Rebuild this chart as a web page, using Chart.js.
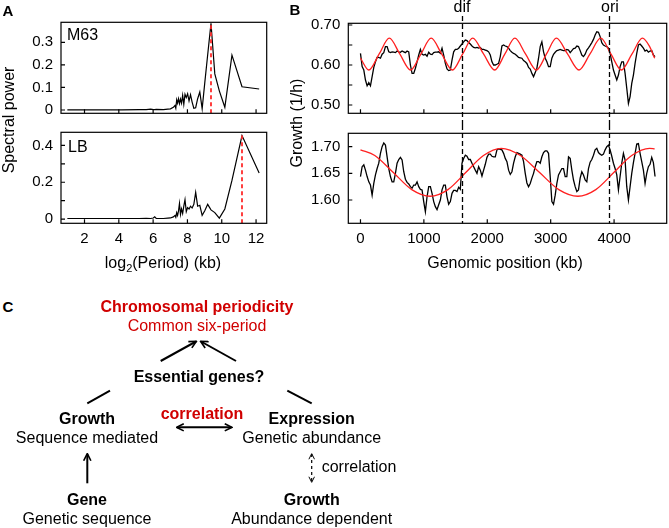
<!DOCTYPE html>
<html>
<head>
<meta charset="utf-8">
<script src="https://cdn.jsdelivr.net/npm/chart.js@4.4.1/dist/chart.umd.min.js"></script>
<style>
  body { margin: 0; background: #fff; font-family: "Liberation Sans", Arial, sans-serif; }
  #fig { position: relative; width: 669px; height: 528px; overflow: hidden; }
  .box { position: absolute; }
  .t { position: absolute; transform: translate(-50%, -50%); white-space: nowrap; font-size: 16px; color: #000; }
  .l { position: absolute; transform: translate(0, -50%); white-space: nowrap; font-size: 16px; color: #000; }
  .b { font-weight: bold; }
  .red { color: #d00000; }
  .panel { position: absolute; font-weight: bold; font-size: 15px; transform: translate(-50%, -50%); }
  .ax { position: absolute; white-space: nowrap; font-size: 16px; transform: translate(-50%, -50%); }
  .rot { transform: translate(-50%, -50%) rotate(-90deg); }
</style>
</head>
<body>
<div id="fig">
  <div class="box" style="left:0;top:0;width:275px;height:125px"><canvas id="aTop" width="275" height="125"></canvas></div>
  <div class="box" style="left:0;top:125px;width:275px;height:130px"><canvas id="aBot" width="275" height="130"></canvas></div>
  <div class="box" style="left:280px;top:0;width:389px;height:125px"><canvas id="bTop" width="389" height="125"></canvas></div>
  <div class="box" style="left:280px;top:125px;width:389px;height:130px"><canvas id="bBot" width="389" height="130"></canvas></div>

  <div class="panel" style="left:8px;top:10px">A</div>
  <div class="panel" style="left:295px;top:9px">B</div>
  <div class="panel" style="left:8px;top:306px">C</div>

  <div class="l" style="left:67px;top:35px">M63</div>
  <div class="l" style="left:68px;top:147px">LB</div>
  <div class="ax rot" style="left:9px;top:120px">Spectral power</div>
  <div class="ax" style="left:163px;top:263px">log<span style="font-size:11px;position:relative;top:4px">2</span>(Period) (kb)</div>
  <div class="ax rot" style="left:297px;top:123px">Growth (1/h)</div>
  <div class="ax" style="left:505px;top:263px">Genomic position (kb)</div>
  <div class="ax" style="left:462px;top:7px">dif</div>
  <div class="ax" style="left:610px;top:7px">ori</div>

  <svg width="669" height="528" style="position:absolute;left:0;top:0">
    <defs>
      <marker id="ah" viewBox="0 0 10 10" refX="8.5" refY="5" markerWidth="9" markerHeight="9" markerUnits="userSpaceOnUse" orient="auto-start-reverse">
        <path d="M1,1 L9,5 L1,9" fill="none" stroke="#000" stroke-width="1.8"/>
      </marker>
      <marker id="ahs" viewBox="0 0 10 10" refX="8.5" refY="5" markerWidth="7" markerHeight="7" markerUnits="userSpaceOnUse" orient="auto-start-reverse">
        <path d="M1,1 L9,5 L1,9" fill="none" stroke="#000" stroke-width="1.4"/>
      </marker>
    </defs>
    <g stroke="#000" stroke-width="2" fill="none">
      <line x1="160.7" y1="361" x2="196" y2="341.5" marker-end="url(#ah)"/>
      <line x1="236" y1="361" x2="201" y2="341.5" marker-end="url(#ah)"/>
      <line x1="87.3" y1="403.3" x2="110" y2="390.7"/>
      <line x1="287.3" y1="390.7" x2="311.7" y2="403.3"/>
      <line x1="177" y1="427.3" x2="231.5" y2="427.3" marker-start="url(#ah)" marker-end="url(#ah)"/>
      <line x1="87.3" y1="483.3" x2="87.3" y2="454" marker-end="url(#ah)"/>
      <line x1="311.7" y1="454" x2="311.7" y2="482" stroke-width="1.2" stroke-dasharray="3,3" marker-start="url(#ahs)" marker-end="url(#ahs)"/>
    </g>
  </svg>

  <div class="t b red" style="left:197px;top:307px">Chromosomal periodicity</div>
  <div class="t red" style="left:197px;top:326px">Common six-period</div>
  <div class="t b" style="left:199px;top:377px">Essential genes?</div>
  <div class="t b" style="left:87px;top:418.5px">Growth</div>
  <div class="t" style="left:87px;top:437.5px">Sequence mediated</div>
  <div class="t b red" style="left:202px;top:413.5px">correlation</div>
  <div class="t b" style="left:311.7px;top:418.5px">Expression</div>
  <div class="t" style="left:311.7px;top:437.5px">Genetic abundance</div>
  <div class="l" style="left:321.7px;top:467.3px">correlation</div>
  <div class="t b" style="left:87px;top:499.5px">Gene</div>
  <div class="t" style="left:87px;top:518.5px">Genetic sequence</div>
  <div class="t b" style="left:311.7px;top:499.5px">Growth</div>
  <div class="t" style="left:311.7px;top:518.5px">Abundance dependent</div>
</div>

<script>
// ---- panel A: spectral power vs log2(period) ----
const periodLog2 = [1.00, 2.18, 3.18, 4.18, 5.18, 5.595, 5.858, 6.01, 6.093, 6.18, 6.595, 6.858,
  7.01, 7.18, 7.273, 7.322, 7.373, 7.425, 7.48, 7.536, 7.595, 7.656, 7.721, 7.788, 7.858, 7.932,
  8.01, 8.093, 8.18, 8.273, 8.373, 8.48, 8.595, 8.721, 8.858, 9.01, 9.18, 9.373, 9.595, 9.858,
  10.18, 10.595, 11.18, 12.18];
const powerM63 = [0.001, 0.001, 0.001, 0.001, 0.002, 0.002, 0.004, 0.002, 0.002, 0.003, 0.002, 0.004,
  0.005, 0.012, 0.02, 0.008, 0.045, 0.03, 0.05, 0.028, 0.048, 0.03, 0.065, 0.025, 0.07, 0.055,
  0.072, 0.04, 0.068, 0.035, 0.008, 0.01, 0.05, 0.08, 0.006, 0.12, 0.245, 0.384, 0.16, 0.085,
  0.012, 0.243, 0.103, 0.093];
const powerLB = [0.003, 0.003, 0.003, 0.003, 0.003, 0.004, 0.003, 0.006, 0.012, 0.004, 0.003, 0.005,
  0.006, 0.012, 0.02, 0.01, 0.035, 0.02, 0.045, 0.085, 0.025, 0.055, 0.03, 0.07, 0.105, 0.04,
  0.062, 0.055, 0.07, 0.06, 0.08, 0.145, 0.07, 0.075, 0.02, 0.045, 0.08, 0.05, 0.035, 0.005,
  0.055, 0.21, 0.454, 0.25];
const peakM63 = 9.373, peakM63Power = 0.384;
const peakLB = 11.18, peakLBPower = 0.454;
const aXTicks = [2, 4, 6, 8, 10, 12];
const m63PowerTicks = [0, 0.1, 0.2, 0.3];
const lbPowerTicks = [0, 0.1, 0.2, 0.3, 0.4];

// ---- panel B: growth along the genome (kb) ----
const binKb = 26.25;
const growthM63 = [
  0.629,0.596,0.5875,0.5625,0.548,0.556,0.548,0.571,0.594,0.608,
  0.619,0.619,0.617,0.627,0.631,0.646,0.646,0.633,0.631,0.633,
  0.632,0.631,0.635,0.633,0.632,0.635,0.633,0.631,0.635,0.633,
  0.600,0.579,0.579,0.592,0.608,0.625,0.639,0.627,0.625,0.627,
  0.622,0.632,0.627,0.626,0.631,0.632,0.632,0.633,0.629,0.642,
  0.625,0.604,0.590,0.586,0.5875,0.6125,0.633,0.639,0.639,0.642,
  0.6475,0.6525,0.658,0.6625,0.661,0.656,0.6525,0.6475,0.644,0.643,
  0.644,0.6425,0.644,0.639,0.639,0.6375,0.636,0.633,0.625,0.608,
  0.600,0.600,0.602,0.604,0.621,0.6475,0.650,0.6475,0.646,0.642,
  0.636,0.632,0.629,0.627,0.623,0.619,0.618,0.617,0.611,0.608,
  0.604,0.594,0.590,0.579,0.571,0.581,0.592,0.617,0.646,0.658,
  0.633,0.617,0.608,0.596,0.596,0.617,0.627,0.632,0.636,0.6375,
  0.639,0.6375,0.636,0.636,0.639,0.6375,0.631,0.636,0.641,0.642,
  0.6475,0.646,0.636,0.625,0.621,0.627,0.6375,0.643,0.649,0.656,
  0.664,0.675,0.683,0.682,0.671,0.656,0.650,0.6475,0.646,0.642,
  0.629,0.608,0.5875,0.575,0.5625,0.575,0.596,0.608,0.608,0.579,
  0.542,0.504,0.521,0.554,0.575,0.604,0.629,0.650,0.6525,0.6475,
  0.642,0.635,0.6375,0.632,0.635,0.636,0.625,0.621];
const growthLB = [
  1.644,1.6625,1.666,1.656,1.644,1.634,1.628,1.609,1.631,1.647,
  1.659,1.669,1.6875,1.700,1.707,1.703,1.681,1.659,1.644,1.634,
  1.634,1.650,1.669,1.676,1.680,1.675,1.653,1.639,1.633,1.630,
  1.625,1.622,1.628,1.628,1.634,1.625,1.620,1.619,1.597,1.578,
  1.606,1.625,1.625,1.6125,1.597,1.5875,1.582,1.591,1.600,1.619,
  1.628,1.628,1.606,1.592,1.597,1.6125,1.618,1.618,1.616,1.624,
  1.620,1.669,1.678,1.684,1.682,1.676,1.676,1.669,1.6625,1.656,
  1.650,1.6625,1.656,1.645,1.656,1.667,1.680,1.686,1.686,1.682,
  1.681,1.681,1.694,1.696,1.695,1.694,1.6875,1.678,1.672,1.656,
  1.648,1.653,1.669,1.681,1.689,1.6875,1.686,1.684,1.672,1.650,
  1.632,1.625,1.631,1.641,1.650,1.6625,1.672,1.672,1.669,1.681,
  1.689,1.692,1.692,1.6875,1.644,1.597,1.592,1.609,1.631,1.647,
  1.653,1.659,1.659,1.644,1.644,1.681,1.678,1.656,1.6375,1.625,
  1.616,1.619,1.641,1.653,1.647,1.6375,1.634,1.659,1.671,1.676,
  1.684,1.694,1.697,1.689,1.686,1.684,1.686,1.694,1.700,1.703,
  1.694,1.682,1.669,1.659,1.647,1.619,1.644,1.669,1.6875,1.675,
  1.625,1.600,1.625,1.650,1.670,1.6875,1.705,1.706,1.6875,1.672,
  1.656,1.631,1.650,1.6625,1.667,1.680,1.670,1.644];
// fitted periodic curves (red)
const fitM63Kb = [0, 131, 293, 455, 622, 790, 952, 1115, 1282, 1450, 1610, 1770, 1943, 2117, 2276,
  2435, 2605, 2775, 2932, 3090, 3268, 3447, 3618, 3790, 3952, 4115, 4281, 4448, 4561, 4640];
const fitM63 = [0.617, 0.5875, 0.627, 0.667, 0.627, 0.5875, 0.627, 0.667, 0.627, 0.5875, 0.627, 0.667,
  0.627, 0.5875, 0.627, 0.667, 0.627, 0.5875, 0.627, 0.667, 0.627, 0.5875, 0.627, 0.667, 0.627,
  0.5875, 0.627, 0.667, 0.646, 0.617];
const fitLBKb = [0, 226, 518, 809, 1100, 1380, 1660, 1940, 2220, 2522, 2825, 3128, 3430, 3712, 3995, 4278, 4560, 4640];
const fitLB = [1.694, 1.6835, 1.6515, 1.6195, 1.607, 1.6195, 1.6515, 1.6835, 1.697, 1.6835, 1.6515,
  1.6195, 1.607, 1.6195, 1.6515, 1.6835, 1.697, 1.696];
const difKb = 1600, oriKb = 3925;
const bXTicks = [0, 1000, 2000, 3000, 4000];
const m63GrowthTicks = [0.5, 0.55, 0.6, 0.65, 0.7];
const lbGrowthTicks = [1.6, 1.65, 1.7];

const FONT = '"Liberation Sans", Arial, sans-serif';
Chart.defaults.font.family = FONT;
Chart.defaults.color = '#000';

function pts(xs, ys) {
  return ys.map(function (y, i) { return { x: xs[i], y: y }; });
}

// box around the plot and short ticks pointing inward
const frameTicks = {
  id: 'frameTicks',
  afterDraw(chart, args, opts) {
    const ctx = chart.ctx, a = chart.chartArea;
    ctx.save();
    ctx.strokeStyle = '#000';
    ctx.lineWidth = 1.2;
    ctx.strokeRect(a.left, a.top, a.right - a.left, a.bottom - a.top);
    ctx.beginPath();
    (opts.xTicks || []).forEach(function (v) {
      const px = chart.scales.x.getPixelForValue(v);
      ctx.moveTo(px, a.bottom); ctx.lineTo(px, a.bottom - 4);
    });
    (opts.yTicks || []).forEach(function (v) {
      const py = chart.scales.y.getPixelForValue(v);
      ctx.moveTo(a.left, py); ctx.lineTo(a.left + 4, py);
    });
    ctx.stroke();
    ctx.restore();
  }
};

// dif / ori guide lines, running through both B panels
const guideLines = {
  id: 'guideLines',
  afterDatasetsDraw(chart, args, opts) {
    if (!opts.xs) return;
    const ctx = chart.ctx;
    const y0 = opts.top ? 16 : 0;
    const y1 = opts.top ? chart.height : chart.chartArea.bottom;
    ctx.save();
    ctx.strokeStyle = '#000';
    ctx.lineWidth = 1.3;
    ctx.setLineDash([5, 3]);
    ctx.beginPath();
    opts.xs.forEach(function (v) {
      const px = Math.round(chart.scales.x.getPixelForValue(v)) + 0.5;
      ctx.moveTo(px, y0); ctx.lineTo(px, y1);
    });
    ctx.stroke();
    ctx.restore();
  }
};

function makeChart(id, datasets, o) {
  return new Chart(document.getElementById(id), {
    type: 'line',
    data: { datasets: datasets },
    plugins: [frameTicks, guideLines],
    options: {
      responsive: false,
      animation: false,
      devicePixelRatio: 1,
      events: [],
      layout: { padding: o.padding },
      elements: { point: { radius: 0 } },
      plugins: {
        legend: { display: false },
        tooltip: { enabled: false },
        frameTicks: { xTicks: o.xTicks, yTicks: o.yTicks },
        guideLines: o.guides || {}
      },
      scales: {
        x: {
          type: 'linear', min: o.xMin, max: o.xMax,
          grid: { display: false, drawTicks: false },
          border: { display: false },
          ticks: { display: o.xLabels, autoSkip: false, padding: 7, font: { size: 15 }, color: '#000',
                   callback: function (v) { return String(v); } },
          afterBuildTicks: function (s) { s.ticks = o.xTicks.map(function (v) { return { value: v }; }); },
          afterFit: function (s) { s.height = o.xHeight; s.paddingLeft = 0; s.paddingRight = 0; }
        },
        y: {
          type: 'linear', min: o.yMin, max: o.yMax,
          grid: { display: false, drawTicks: false },
          border: { display: false },
          ticks: { autoSkip: false, padding: 8, font: { size: 15 }, color: '#000', callback: o.yFmt },
          afterBuildTicks: function (s) { s.ticks = o.yTicks.map(function (v) { return { value: v }; }); },
          afterFit: function (s) { s.width = o.yWidth; s.paddingTop = 0; s.paddingBottom = 0; }
        }
      }
    }
  });
}

const aXMin = 0.63, aXMax = 12.62;
const m63YMin = -0.0146, m63YMax = 0.3886;
const lbYMin = -0.023, lbYMax = 0.4716;

makeChart('aTop', [
  { data: [{ x: peakM63, y: m63YMin }, { x: peakM63, y: peakM63Power }], borderColor: '#ff2a2a', borderWidth: 1.8, borderDash: [4, 3] },
  { data: pts(periodLog2, powerM63), borderColor: '#000', borderWidth: 1.2 }
], {
  padding: { left: 0, top: 22.3, right: 8.3, bottom: 0 },
  xMin: aXMin, xMax: aXMax, xTicks: aXTicks, xLabels: false, xHeight: 11.7,
  yMin: m63YMin, yMax: m63YMax, yTicks: m63PowerTicks, yWidth: 61,
  yFmt: function (v) { return String(v); }
});

makeChart('aBot', [
  { data: [{ x: peakLB, y: lbYMin }, { x: peakLB, y: peakLBPower }], borderColor: '#ff2a2a', borderWidth: 1.8, borderDash: [4, 3] },
  { data: pts(periodLog2, powerLB), borderColor: '#000', borderWidth: 1.2 }
], {
  padding: { left: 0, top: 7.3, right: 8.3, bottom: 0 },
  xMin: aXMin, xMax: aXMax, xTicks: aXTicks, xLabels: true, xHeight: 31.7,
  yMin: lbYMin, yMax: lbYMax, yTicks: lbPowerTicks, yWidth: 61,
  yFmt: function (v) { return [0, 0.2, 0.4].indexOf(v) >= 0 ? String(v) : ''; }
});

const bXMin = -192, bXMax = 4830;
const posKb = growthM63.map(function (v, i) { return i * binKb; });

makeChart('bTop', [
  { data: pts(fitM63Kb, fitM63), borderColor: '#ff2020', borderWidth: 1.3, cubicInterpolationMode: 'monotone' },
  { data: pts(posKb, growthM63), borderColor: '#000', borderWidth: 1.3 }
], {
  padding: { left: 0, top: 23.3, right: 2.3, bottom: 0 },
  xMin: bXMin, xMax: bXMax, xTicks: bXTicks, xLabels: false, xHeight: 11.7,
  yMin: 0.4793, yMax: 0.7043, yTicks: m63GrowthTicks, yWidth: 68.3,
  yFmt: function (v) { return [0.5, 0.6, 0.7].indexOf(v) >= 0 ? v.toFixed(2) : ''; },
  guides: { xs: [difKb, oriKb], top: true }
});

makeChart('bBot', [
  { data: pts(fitLBKb, fitLB), borderColor: '#ff2020', borderWidth: 1.3, cubicInterpolationMode: 'monotone' },
  { data: pts(posKb, growthLB), borderColor: '#000', borderWidth: 1.3 }
], {
  padding: { left: 0, top: 8.3, right: 2.3, bottom: 0 },
  xMin: bXMin, xMax: bXMax, xTicks: bXTicks, xLabels: true, xHeight: 31.7,
  yMin: 1.5563, yMax: 1.7251, yTicks: lbGrowthTicks, yWidth: 68.3,
  yFmt: function (v) { return v.toFixed(2); },
  guides: { xs: [difKb, oriKb], top: false }
});
</script>
</body>
</html>
